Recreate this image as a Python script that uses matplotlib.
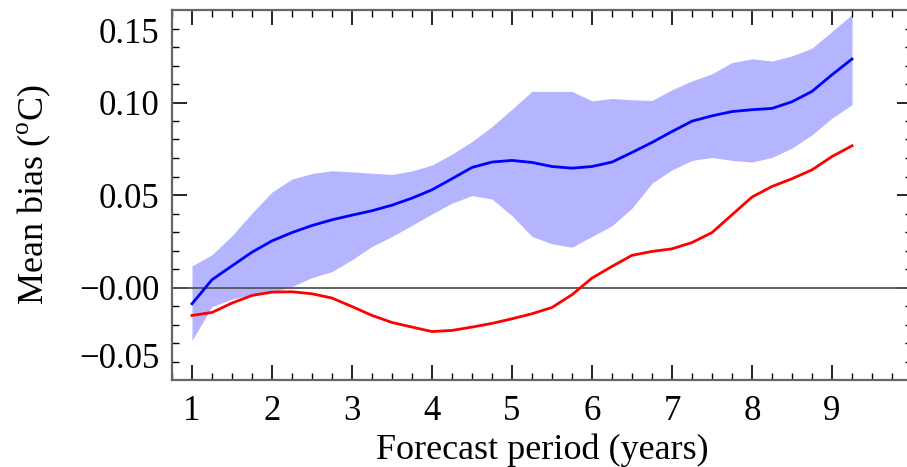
import matplotlib as mpl
mpl.use('Agg')
import matplotlib.pyplot as plt
import matplotlib.ticker as plticker
import matplotlib.transforms as mtransforms

# forecast period (years)
years = [1.0, 1.25, 1.5, 1.75, 2.0, 2.25, 2.5, 2.75, 3.0, 3.25, 3.5, 3.75,
         4.0, 4.25, 4.5, 4.75, 5.0, 5.25, 5.5, 5.75, 6.0, 6.25, 6.5, 6.75,
         7.0, 7.25, 7.5, 7.75, 8.0, 8.25, 8.5, 8.75, 9.0, 9.25]

bias_mean = [-0.0088, 0.0042, 0.0117, 0.0191, 0.0252, 0.0297, 0.0335, 0.0366,
             0.0391, 0.0415, 0.0445, 0.0483, 0.0528, 0.0588, 0.0649, 0.0678,
             0.0687, 0.0676, 0.0654, 0.0645, 0.0654, 0.0678, 0.0730, 0.0784,
             0.0843, 0.0899, 0.0928, 0.0951, 0.0961, 0.0968, 0.1004, 0.1060,
             0.1150, 0.1235]

band_upper = [0.0117, 0.0177, 0.0280, 0.0402, 0.0516, 0.0586, 0.0616, 0.0631,
              0.0625, 0.0618, 0.0611, 0.0630, 0.0662, 0.0721, 0.0789, 0.0870,
              0.0964, 0.1060, 0.1060, 0.1060, 0.1009, 0.1022, 0.1015, 0.1011,
              0.1069, 0.1117, 0.1155, 0.1216, 0.1236, 0.1224, 0.1252, 0.1294,
              0.1384, 0.1476]

band_lower = [-0.0286, -0.0103, -0.0063, -0.0036, -0.0027, 0.0005, 0.0054, 0.0086,
              0.0150, 0.0222, 0.0276, 0.0336, 0.0398, 0.0456, 0.0497, 0.0478,
              0.0388, 0.0276, 0.0236, 0.0218, 0.0276, 0.0334, 0.0429, 0.0564,
              0.0636, 0.0687, 0.0703, 0.0687, 0.0678, 0.0703, 0.0754, 0.0825,
              0.0916, 0.0988]

bias_red = [-0.0151, -0.0135, -0.0084, -0.0043, -0.0025, -0.0023, -0.0034, -0.0057,
            -0.0103, -0.0151, -0.0189, -0.0214, -0.0238, -0.0232, -0.0214, -0.0194,
            -0.0169, -0.0142, -0.0108, -0.0039, 0.0051, 0.0114, 0.0174, 0.0195,
            0.0209, 0.0243, 0.0297, 0.0393, 0.0489, 0.0546, 0.0588, 0.0636,
            0.0708, 0.0766]

yticks = [-0.05, 0.0, 0.05, 0.10, 0.15]
ytick_labels = ['\u22120.05', '\u22120.00', '0.05', '0.10', '0.15']
xticks = [1, 2, 3, 4, 5, 6, 7, 8, 9]

plt.rcParams['font.family'] = ['Liberation Serif', 'DejaVu Serif']
plt.rcParams['mathtext.fontset'] = 'custom'
plt.rcParams['mathtext.rm'] = 'Liberation Serif'

cspine = '#666666'
cband = '#b4b4ff'

my_dpi = 100
fig = plt.figure(figsize=(907/my_dpi, 467/my_dpi), dpi=my_dpi)
ax = fig.add_axes([172/907, 87/467, 740/907, 370/467])

ax.fill_between(years, band_lower, band_upper, color=cband, linewidth=0)
ax.axhline(0, color='#555555', linewidth=1.3)
ax.plot(years, bias_mean, color='#0000ff', linewidth=2)
ax.plot(years, bias_red, color='#ff0000', linewidth=2)

ax.set_xlim(0.75, 10.0)
ax.set_ylim(-0.05, 0.15)
ax.set_xticks(xticks)
ax.xaxis.set_minor_locator(plticker.MultipleLocator(0.25))
ax.set_yticks(yticks)
ax.set_yticklabels(ytick_labels)
ax.yaxis.set_minor_locator(plticker.MultipleLocator(0.01))

ax.tick_params(which='both', direction='in', top=True, right=True, color='black', labelsize=25)
ax.tick_params(which='major', length=11, width=1.2)
ax.tick_params(which='minor', length=5, width=1.0)
ax.tick_params(axis='x', pad=11)
ax.tick_params(axis='y', pad=9)
for s in ax.spines.values():
    s.set_color(cspine)
    s.set_linewidth(1.6)

ax.set_xlabel('Forecast period (years)', fontsize=26, labelpad=4)
ax.set_ylabel(r'Mean bias ($^{\rm o}$C)', fontsize=26, labelpad=19)

# nudge the end labels inward like the original
ticks = ax.yaxis.get_major_ticks()
dn = mtransforms.ScaledTranslation(0, -15/72, fig.dpi_scale_trans)
up = mtransforms.ScaledTranslation(0, 18/72, fig.dpi_scale_trans)
ticks[-1].label1.set_transform(ticks[-1].label1.get_transform() + dn)
ticks[0].label1.set_transform(ticks[0].label1.get_transform() + up)

plt.savefig('out.png', dpi=my_dpi)
